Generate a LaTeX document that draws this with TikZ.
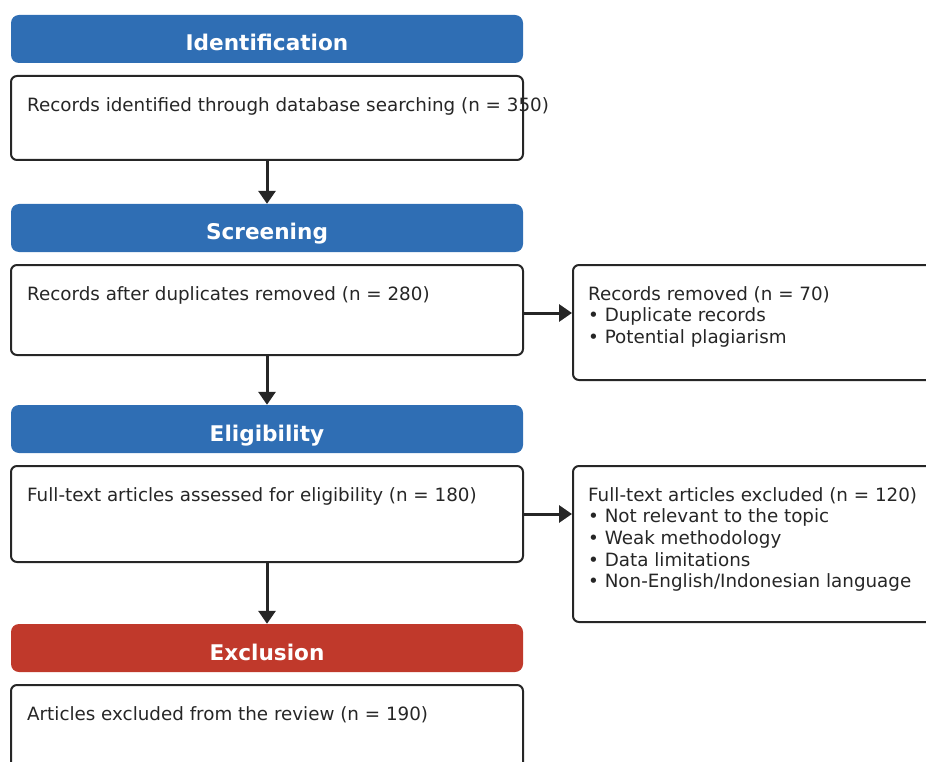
\documentclass[tikz,border=0pt]{standalone}
\usepackage{fontspec}
\setmainfont{DejaVu Sans}
\usetikzlibrary{arrows.meta}

\definecolor{stageblue}{RGB}{47,110,180}
\definecolor{stagered}{RGB}{192,57,43}
\definecolor{ink}{RGB}{38,38,38}

\tikzset{
  stage/.style={rounded corners=8pt, minimum width=512pt, minimum height=48pt,
    inner sep=0pt, text=white, font=\fontsize{21.6}{26}\selectfont\bfseries,
    text height=24pt, text depth=0pt},
  card/.style={draw=ink, line width=2pt, rounded corners=6pt, inner sep=0pt},
  cardtext/.style={anchor=north west, inner sep=0pt, align=left, text=ink,
    font=\fontsize{18.3}{21.7}\selectfont},
  flow/.style={draw=ink, line width=3pt, -{Triangle[length=13pt,width=17pt]}},
}

\begin{document}
\begin{tikzpicture}[x=1pt, y=-1pt]
    \useasboundingbox (0,0) rectangle (926,762);
    % stages
    \node[stage, fill=stageblue] (hid) at (267,39) {Identification};
    \node[stage, fill=stageblue] (hsc) at (267,228) {Screening};
    \node[stage, fill=stageblue] (hel) at (267,429) {Eligibility};
    \node[stage, fill=stagered] (hex) at (267,648) {Exclusion};
    % boxes
    \node[card, minimum width=512pt, minimum height=84pt] (b1) at (267,118) {};
    \node[card, minimum width=512pt, minimum height=90pt] (b2) at (267,310) {};
    \node[card, minimum width=512pt, minimum height=96pt] (b3) at (267,514) {};
    \node[card, minimum width=512pt, minimum height=92pt] (b4) at (267,731) {};
    \node[card, minimum width=368pt, minimum height=115pt] (r1) at (757,322.5) {};
    \node[card, minimum width=368pt, minimum height=156pt] (r2) at (757,544) {};
    % texts
    \node[cardtext] (t1) at ([xshift=17pt,yshift=-22pt]b1.north west)
        {Records identified through database searching (n = 350)};
    \node[cardtext] (t2) at ([xshift=17pt,yshift=-22pt]b2.north west)
        {Records after duplicates removed (n = 280)};
    \node[cardtext] (t3) at ([xshift=17pt,yshift=-22pt]b3.north west)
        {Full-text articles assessed for eligibility (n = 180)};
    \node[cardtext] (t4) at ([xshift=17pt,yshift=-22pt]b4.north west)
        {Articles excluded from the review (n = 190)};
    \node[cardtext] (s1) at ([xshift=16pt,yshift=-22pt]r1.north west)
        {Records removed (n = 70)\\ • Duplicate records\\ • Potential plagiarism};
    \node[cardtext] (s2) at ([xshift=16pt,yshift=-22pt]r2.north west)
        {Full-text articles excluded (n = 120)\\ • Not relevant to the topic\\
         • Weak methodology\\ • Data limitations\\ • Non-English/Indonesian language};
    % arrows
    \draw[flow] (b1.south) -- (hsc.north);
    \draw[flow] (b2.south) -- (hel.north);
    \draw[flow] (b3.south) -- (hex.north);
    \draw[flow] ([yshift=-3pt]b2.east) -- ([yshift=-3pt]b2.east -| r1.west);
    \draw[flow] (b3.east) -- (b3.east -| r2.west);
\end{tikzpicture}
\end{document}
